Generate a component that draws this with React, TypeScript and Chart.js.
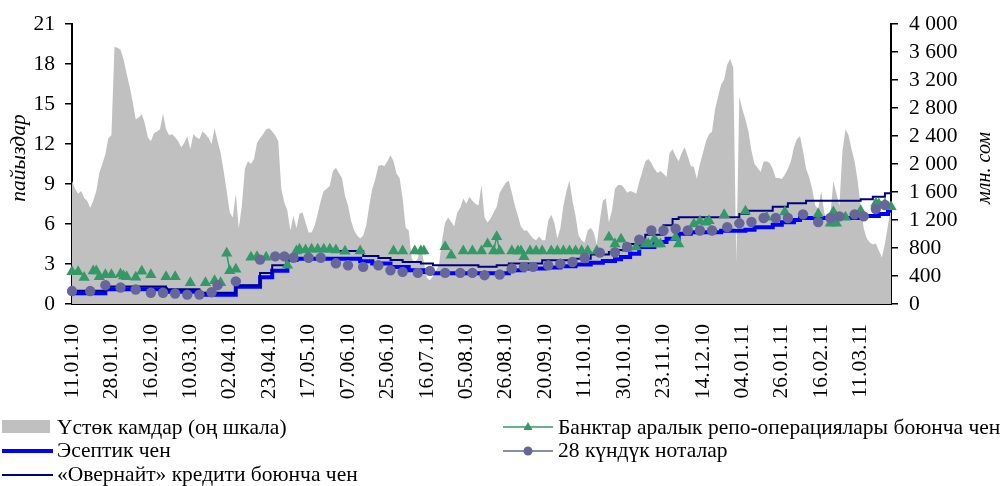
import React, { useEffect, useRef } from 'react';
import { Chart, registerables } from 'chart.js';

Chart.register(...registerables);

const tickLabels = [
  '11.01.10', '28.01.10', '16.02.10', '10.03.10', '02.04.10', '23.04.10', '17.05.10',
  '07.06.10', '25.06.10', '16.07.10', '05.08.10', '26.08.10', '20.09.10', '11.10.10',
  '30.10.10', '23.11.10', '14.12.10', '04.01.11', '26.01.11', '16.02.11', '11.03.11',
];
const tickEvery = 13;

// Үстөк камдар, млн. сом (one value per trading day)
const reserves = [
  1760, 1645, 1575, 1615, 1515, 1475, 1375, 1475, 1615, 1870,
  2000, 2140, 2370, 2410, 3670, 3660, 3630, 3490, 3290, 3105,
  2890, 2640, 2665, 2710, 2580, 2380, 2325, 2440, 2465, 2495,
  2720, 2495, 2410, 2425, 2380, 2325, 2240, 2300, 2395, 2210,
  2425, 2380, 2355, 2465, 2425, 2370, 2285, 2510, 2325, 2155,
  1900, 1615, 1305, 1235, 1575, 1080, 1405, 1930, 2040, 2000,
  2070, 2300, 2370, 2425, 2495, 2510, 2465, 2410, 2325,
  1645, 1445, 1335, 1050, 1260, 1080, 1290, 1305, 1165, 1020,
  1020, 1120, 1290, 1475, 1615, 1645, 1690, 1900, 1945, 1870,
  1800, 1545, 1405, 1190, 1050, 980, 935, 980, 1120, 1405,
  1645, 1785, 1970, 1985, 1970, 2040, 2125, 2040, 1860, 1800,
  1505, 1090, 1050, 650, 595, 650, 835, 595, 370, 340,
  395, 480, 565, 910, 1165, 1235, 1175, 1105, 1305, 1375,
  1505, 1430, 1530, 1475, 1430, 1405, 1700, 1235, 1165, 1220,
  1305, 1390, 1590, 1660, 1730, 1760, 1590, 1405, 1260, 1105,
  1050, 1050, 990, 935, 910, 965, 910, 910, 1190, 1275,
  1165, 935, 1080, 1405, 1615, 1760, 1475, 1260, 980, 910,
  880, 1050, 1090, 1020, 850, 1190, 1475, 1505, 1165, 1335,
  1645, 1700, 1700, 1660, 1590, 1615, 1600, 1575, 1745, 1885,
  2040, 2070, 2015, 1930, 1870, 1900, 1860, 1815, 2155, 2210,
  2110, 2040, 2155, 2240, 2110, 1970, 1955,
  1785, 2000,
  2155, 2325, 2425, 2465, 2780, 2965, 3135, 3205, 3420, 3500,
  3375, 595, 2965, 2780, 2640, 2465, 2185, 2000, 1945, 1885,
  2030, 2040, 2015, 1930, 1800, 1800, 1785, 1845, 1930, 2040,
  2240, 2355, 2395, 2185, 1930, 1815, 1645, 1405, 1360, 1615,
  1305, 1190, 1260, 1760, 1575, 1405, 2185, 2495, 2410, 2210,
  2040, 1760, 1405, 1080, 935, 880, 850, 865, 765, 665,
  865, 1120, 1405,
];

// Эсептик чен: [day index, rate from that day]
const policyRate: [number, number][] = [
  [0, 0.8], [11, 1.1], [31, 0.92], [42, 0.7], [54, 1.29], [62, 2.0], [66, 2.5],
  [71, 3.3], [74, 3.4], [95, 3.2], [99, 3.03], [105, 2.78], [111, 2.53], [116, 2.4],
  [119, 2.3], [144, 2.53], [149, 2.66], [156, 2.73], [161, 2.83], [166, 2.96],
  [171, 3.1], [175, 3.22], [179, 3.35], [181, 3.52], [184, 3.77], [187, 4.27],
  [192, 4.64], [196, 4.89], [200, 5.26], [204, 5.38], [214, 5.5], [222, 5.56],
  [225, 5.76], [231, 5.95], [234, 6.13], [238, 6.3], [240, 6.45], [260, 6.6],
  [266, 6.75], [269, 7.0], [270, 7.0],
];

// «Овернайт» кредити боюнча чен
const overnightRate: [number, number][] = [
  [0, 1.0], [11, 1.32], [31, 1.1], [42, 0.84], [54, 1.41], [62, 2.33], [66, 2.9],
  [71, 3.55], [74, 3.97], [96, 3.6], [101, 3.45], [105, 3.3], [109, 3.15], [115, 3.03],
  [119, 2.9], [134, 2.8], [140, 2.9], [144, 3.03], [155, 3.28], [166, 3.4], [171, 3.72],
  [177, 3.9], [180, 4.05], [182, 4.5], [189, 5.2], [195, 5.9], [198, 6.38], [200, 6.5],
  [220, 6.75], [223, 7.0], [231, 7.3], [236, 7.55], [242, 7.74], [260, 7.85],
  [264, 8.05], [268, 8.3], [270, 8.3],
];

// Банктар аралык репо-операциялары боюнча чен
const repoRate: [number, number][] = [
  [0, 2.42], [2, 2.42], [4, 1.98], [7, 2.48], [8, 2.48], [9, 2.05], [11, 2.2], [13, 2.2],
  [16, 2.25], [17, 2.1], [18, 2.05], [21, 2.0], [23, 2.45], [26, 2.2], [31, 2.05], [34, 2.05],
  [39, 1.6], [44, 1.6], [47, 1.75], [49, 1.6], [51, 3.8], [52, 2.5], [54, 2.6], [59, 3.5],
  [61, 3.55], [64, 3.5], [71, 2.9], [74, 3.97], [75, 4.1], [77, 4.05], [79, 4.1], [81, 4.1],
  [83, 4.1], [85, 4.1], [87, 4.05], [90, 3.95], [95, 3.97], [106, 3.97], [109, 3.97],
  [113, 3.97], [115, 3.97], [116, 3.97], [123, 4.3], [125, 3.65], [129, 3.97], [132, 3.97],
  [135, 3.97], [137, 4.5], [139, 3.97], [140, 5.05], [141, 3.97], [145, 3.97], [147, 3.97],
  [148, 3.97], [149, 3.55], [151, 3.97], [153, 3.97], [155, 3.97], [158, 3.97], [160, 3.97],
  [162, 3.97], [164, 3.97], [166, 3.97], [168, 3.97], [170, 3.97], [173, 3.97], [177, 5.0],
  [179, 4.5], [181, 4.85], [183, 4.15], [186, 4.27], [189, 4.5], [190, 4.5], [192, 4.85],
  [193, 4.5], [194, 4.5], [199, 5.0], [200, 4.5], [205, 6.0], [207, 6.2], [209, 6.13],
  [210, 6.25], [215, 6.7], [222, 6.95], [229, 6.5], [235, 6.9], [246, 6.75], [250, 6.05],
  [251, 6.9], [252, 6.05], [255, 6.5], [260, 7.0], [265, 7.55], [266, 7.5], [268, 7.5],
  [270, 7.3],
];

// 28 күндүк ноталар
const notes28: [number, number][] = [
  [0, 0.97], [6, 0.97], [11, 1.41], [16, 1.24], [21, 1.09], [26, 0.84], [30, 0.84],
  [34, 0.79], [38, 0.7], [42, 0.7], [46, 0.88], [48, 1.41], [54, 1.7], [62, 3.33],
  [67, 3.57], [70, 3.57], [73, 3.47], [78, 3.47], [82, 3.47], [87, 3.05], [91, 2.9],
  [96, 2.78], [101, 2.9], [105, 2.53], [109, 2.41], [114, 2.33], [118, 2.48], [123, 2.33],
  [128, 2.33], [132, 2.33], [136, 2.16], [141, 2.21], [145, 2.66], [149, 2.78], [152, 2.78],
  [157, 2.9], [161, 3.03], [165, 3.15], [169, 3.45], [174, 3.85], [179, 3.88], [183, 4.27],
  [187, 4.82], [191, 5.51], [195, 5.51], [199, 5.64], [203, 5.51], [207, 5.51], [211, 5.51],
  [216, 5.76], [220, 6.05], [224, 6.15], [228, 6.45], [232, 6.45], [236, 6.45], [241, 6.72],
  [246, 6.15], [250, 6.45], [253, 6.57], [258, 6.72], [261, 6.57], [265, 7.12], [268, 7.42],
];

const leftTicks = { min: 0, max: 21, step: 3 };
const rightTicks = { min: 0, max: 4000, step: 400 };

const legendLeft = ['Үстөк камдар (оң шкала)', 'Эсептик чен', '«Овернайт» кредити боюнча чен'];
const legendRight = ['Банктар аралык репо-операциялары боюнча чен', '28 күндүк ноталар'];

const FONT = '"Liberation Serif", "Times New Roman", serif';
const FS = 21.5;
const C_AREA = '#c0c0c0';
const C_BLUE = '#0000ff';
const C_NAVY = '#000080';
const C_GREEN = '#339966';
const C_PURPLE = '#666699';

const N = reserves.length;
const labels = Array.from({ length: N }, (_, i) =>
  i % tickEvery === 0 && tickLabels[i / tickEvery] ? tickLabels[i / tickEvery] : ''
);

function toSeries(pairs: [number, number][]) {
  const arr: (number | null)[] = new Array(N).fill(null);
  pairs.forEach(([i, v]) => {
    arr[i] = v;
  });
  return arr;
}

function fmtThousands(v: number) {
  const s = String(Math.round(v));
  return s.length > 3 ? s.slice(0, -3) + ' ' + s.slice(-3) : s;
}

const overlay = {
  id: 'overlay',
  afterDraw(chart: any) {
    const ctx = chart.ctx as CanvasRenderingContext2D;
    ctx.save();
    ctx.fillStyle = '#000';
    ctx.textBaseline = 'middle';
    // axis titles
    ctx.font = `italic 21.5px ${FONT}`;
    ctx.textAlign = 'center';
    ctx.save();
    ctx.translate(19, 158);
    ctx.rotate(-Math.PI / 2);
    ctx.fillText('пайыздар', 0, 0);
    ctx.restore();
    ctx.font = `italic 20px ${FONT}`;
    ctx.save();
    ctx.translate(985, 168);
    ctx.rotate(-Math.PI / 2);
    ctx.fillText('млн. сом', 0, 0);
    ctx.restore();

    // legend
    const rows = [428, 451, 475];
    ctx.font = `${FS}px ${FONT}`;
    ctx.textAlign = 'left';
    // column 1
    ctx.fillStyle = C_AREA;
    ctx.fillRect(2, 420, 48, 13);
    ctx.strokeStyle = C_BLUE;
    ctx.lineWidth = 4;
    ctx.beginPath();
    ctx.moveTo(2, rows[1]);
    ctx.lineTo(53, rows[1]);
    ctx.stroke();
    ctx.strokeStyle = C_NAVY;
    ctx.lineWidth = 2;
    ctx.beginPath();
    ctx.moveTo(2, rows[2]);
    ctx.lineTo(53, rows[2]);
    ctx.stroke();
    ctx.fillStyle = '#000';
    legendLeft.forEach((t, k) => ctx.fillText(t, 57, rows[k]));
    // column 2
    ctx.strokeStyle = C_GREEN;
    ctx.lineWidth = 1.5;
    ctx.beginPath();
    ctx.moveTo(503, rows[0] - 1);
    ctx.lineTo(553, rows[0] - 1);
    ctx.stroke();
    ctx.fillStyle = C_GREEN;
    ctx.beginPath();
    ctx.moveTo(528, rows[0] - 6);
    ctx.lineTo(532.5, rows[0] + 2);
    ctx.lineTo(523.5, rows[0] + 2);
    ctx.closePath();
    ctx.fill();
    ctx.strokeStyle = C_PURPLE;
    ctx.beginPath();
    ctx.moveTo(503, rows[1]);
    ctx.lineTo(553, rows[1]);
    ctx.stroke();
    ctx.fillStyle = C_PURPLE;
    ctx.beginPath();
    ctx.arc(528, rows[1], 4.5, 0, Math.PI * 2);
    ctx.fill();
    ctx.fillStyle = '#000';
    legendRight.forEach((t, k) => ctx.fillText(t, 558, rows[k]));
    ctx.restore();
  },
};

export default function App() {
  const ref = useRef<HTMLCanvasElement | null>(null);

  useEffect(() => {
    document.body.style.margin = '0';
    const canvas = ref.current;
    if (!canvas) return;
    Chart.defaults.font.family = FONT;
    Chart.defaults.font.size = FS;
    Chart.defaults.color = '#000';

    const chart = new Chart(canvas, {
      type: 'line',
      data: {
        labels,
        datasets: [
          {
            label: legendRight[1],
            data: toSeries(notes28),
            yAxisID: 'y',
            borderColor: C_PURPLE,
            backgroundColor: C_PURPLE,
            borderWidth: 1.5,
            pointStyle: 'circle',
            pointRadius: 5.2,
            pointBorderWidth: 0,
            pointBackgroundColor: C_PURPLE,
            spanGaps: false,
            order: 1,
          },
          {
            label: legendRight[0],
            data: toSeries(repoRate),
            yAxisID: 'y',
            borderColor: C_GREEN,
            backgroundColor: C_GREEN,
            borderWidth: 1.5,
            pointStyle: 'triangle',
            pointRadius: 6.5,
            pointBorderWidth: 0,
            pointBackgroundColor: C_GREEN,
            spanGaps: false,
            order: 2,
          },
          {
            label: legendLeft[2],
            data: toSeries(overnightRate),
            yAxisID: 'y',
            borderColor: C_NAVY,
            borderWidth: 2,
            pointRadius: 0,
            stepped: 'before',
            spanGaps: true,
            order: 3,
          },
          {
            label: legendLeft[1],
            data: toSeries(policyRate),
            yAxisID: 'y',
            borderColor: C_BLUE,
            borderWidth: 4,
            pointRadius: 0,
            stepped: 'before',
            spanGaps: true,
            order: 4,
          },
          {
            label: legendLeft[0],
            data: reserves,
            yAxisID: 'y2',
            borderColor: 'rgba(0,0,0,0)',
            borderWidth: 0,
            backgroundColor: C_AREA,
            fill: 'origin',
            pointRadius: 0,
            order: 10,
          },
        ],
      },
      options: {
        responsive: false,
        maintainAspectRatio: false,
        animation: false,
        devicePixelRatio: 1,
        layout: { padding: { top: 22, left: 0, right: 0, bottom: 0 } },
        plugins: {
          legend: { display: false },
          tooltip: { enabled: false },
        },
        scales: {
          x: {
            type: 'category',
            offset: false,
            grid: { display: false, drawTicks: false },
            border: { display: true, color: '#000', width: 2 },
            ticks: {
              autoSkip: false,
              minRotation: 90,
              maxRotation: 90,
              padding: 20,
              font: { size: FS, family: FONT },
              color: '#000',
            },
            afterFit: (s: any) => {
              s.height = 182;
            },
          },
          y: {
            position: 'left',
            min: leftTicks.min,
            max: leftTicks.max,
            ticks: {
              stepSize: leftTicks.step,
              autoSkip: false,
              padding: 10,
              font: { size: FS, family: FONT },
              color: '#000',
            },
            grid: {
              drawOnChartArea: false,
              drawTicks: true,
              tickLength: 7,
              color: '#000',
              lineWidth: 1.5,
            },
            border: { display: true, color: '#000', width: 2 },
            afterFit: (s: any) => {
              s.width = 72;
            },
          },
          y2: {
            position: 'right',
            min: rightTicks.min,
            max: rightTicks.max,
            ticks: {
              stepSize: rightTicks.step,
              autoSkip: false,
              padding: 11,
              font: { size: FS, family: FONT },
              color: '#000',
              callback: (v: any) => fmtThousands(Number(v)),
            },
            grid: {
              drawOnChartArea: false,
              drawTicks: true,
              tickLength: 7,
              color: '#000',
              lineWidth: 1.5,
            },
            border: { display: true, color: '#000', width: 2 },
            afterFit: (s: any) => {
              s.width = 109;
            },
          },
        },
      },
      plugins: [overlay],
    } as any);

    return () => chart.destroy();
  }, []);

  return (
    <div style={{ width: 1000, height: 486, background: '#fff' }}>
      <canvas ref={ref} width={1000} height={486} style={{ width: 1000, height: 486, display: 'block' }} />
    </div>
  );
}
